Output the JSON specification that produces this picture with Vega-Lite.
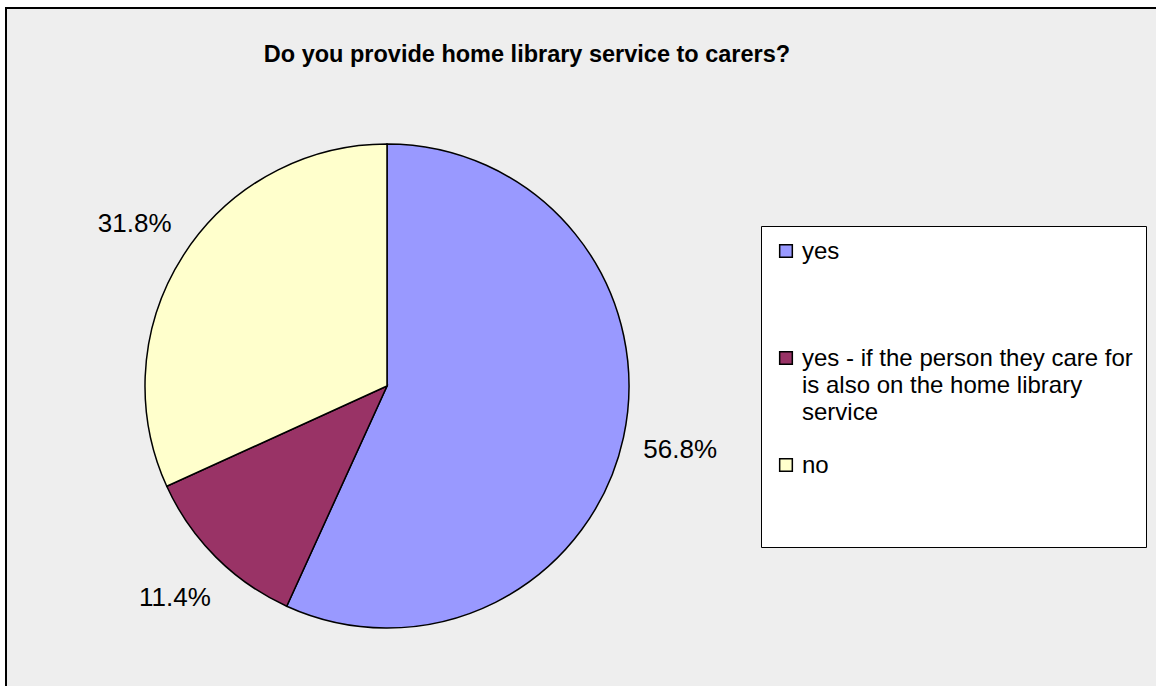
{
  "$schema": "https://vega.github.io/schema/vega-lite/v6.json",
  "width": 1152,
  "height": 680,
  "autosize": {"type": "none"},
  "padding": {"left": 6, "top": 8, "right": 0, "bottom": 0},
  "background": "white",
  "view": {"fill": "#EEEEEE", "stroke": "black", "strokeWidth": 2},
  "title": {
    "text": "Do you provide home library service to carers?",
    "font": "Liberation Sans",
    "fontSize": 23.5,
    "fontWeight": "bold",
    "color": "black",
    "anchor": "middle",
    "baseline": "alphabetic",
    "offset": -77,
    "dx": -55
  },
  "data": {
    "values": [
      {"answer": "yes", "share": 0.568, "rank": 1},
      {"answer": "yes - if the person they care for is also on the home library service", "share": 0.114, "rank": 2},
      {"answer": "no", "share": 0.318, "rank": 3}
    ]
  },
  "encoding": {
    "theta": {"field": "share", "type": "quantitative", "stack": true},
    "order": {"field": "rank", "type": "quantitative"}
  },
  "layer": [
    {
      "mark": {"type": "arc", "outerRadius": 242, "x": 381, "y": 378, "stroke": "black", "strokeWidth": 1.5},
      "encoding": {
        "color": {
          "field": "answer",
          "type": "nominal",
          "sort": ["yes", "yes - if the person they care for is also on the home library service", "no"],
          "scale": {
            "domain": ["yes", "yes - if the person they care for is also on the home library service", "no"],
            "range": ["#9999FF", "#993366", "#FFFFCC"]
          },
          "legend": {
            "orient": "none",
            "legendX": 755,
            "legendY": 218,
            "title": " ",
            "titleOrient": "bottom",
            "titleFontSize": 40,
            "titlePadding": 16,
            "fillColor": "white",
            "strokeColor": "black",
            "padding": 13,
            "gridAlign": "all",
            "rowPadding": 28,
            "symbolType": "square",
            "symbolSize": 160,
            "symbolStrokeColor": "black",
            "symbolStrokeWidth": 1.5,
            "symbolOpacity": 1,
            "labelFont": "Liberation Sans",
            "labelFontSize": 24,
            "labelColor": "black",
            "labelLimit": 400,
            "labelOffset": 4,
            "labelBaseline": "top",
            "labelExpr": "datum.label == 'yes - if the person they care for is also on the home library service' ? ['yes - if the person they care for', 'is also on the home library', 'service'] : datum.label",
            "encode": {"labels": {"update": {"dy": {"value": -11}, "lineHeight": {"value": 27}}}}
          }
        }
      }
    },
    {
      "mark": {"type": "text", "radius": 300, "x": 381, "y": 378, "font": "Liberation Sans", "fontSize": 26, "color": "black"},
      "encoding": {
        "text": {"field": "share", "type": "quantitative", "format": ".1%"}
      }
    }
  ]
}
